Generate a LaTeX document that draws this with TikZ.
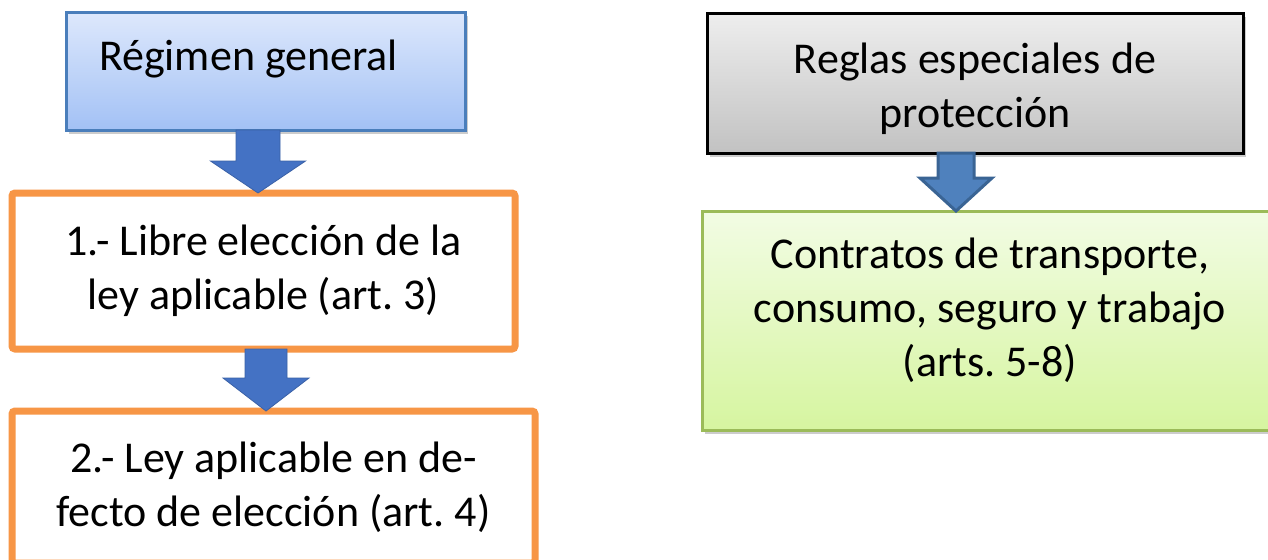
\documentclass[tikz,border=0pt]{standalone}
\usepackage{fontspec}
\setmainfont{Carlito}
\frenchspacing
\usetikzlibrary{calc,shadows}

\definecolor{regborde}{HTML}{4A7EBB}
\definecolor{regarriba}{HTML}{DDE8FC}
\definecolor{regabajo}{HTML}{A3C1F5}
\definecolor{pasoborde}{HTML}{F79646}
\definecolor{esparriba}{HTML}{EEEEEE}
\definecolor{espabajo}{HTML}{C2C2C2}
\definecolor{conborde}{HTML}{9BBB59}
\definecolor{conarriba}{HTML}{F2FCE4}
\definecolor{conabajo}{HTML}{D6F5A0}
\definecolor{flechaazul}{HTML}{4472C4}
\definecolor{flechamedia}{HTML}{4F81BD}
\definecolor{flechaborde}{HTML}{3A6494}

\tikzstyle{caja} = [rectangle, align=center, inner sep=0pt, outer sep=0pt, font=\fontsize{22pt}{27pt}\selectfont]
\tikzstyle{sombra} = [drop shadow={shadow xshift=1.5pt, shadow yshift=-2pt, opacity=.2, fill=black}]
\tikzstyle{regimen} = [caja, sombra, draw=regborde, line width=1.5pt, top color=regarriba, bottom color=regabajo]
\tikzstyle{paso} = [caja, draw=pasoborde, line width=3.5pt, fill=white, rounded corners=1.5pt]
\tikzstyle{especial} = [caja, sombra, draw=black, line width=1.5pt, top color=esparriba, bottom color=espabajo]
\tikzstyle{contrato} = [caja, sombra, draw=conborde, line width=1.5pt, top color=conarriba, bottom color=conabajo]
\tikzstyle{flecha} = [fill=flechaazul, draw=flechaazul!85!black, line width=0.4pt]
\tikzstyle{flechagris} = [fill=flechamedia, draw=flechaborde, line width=1.5pt]

\begin{document}
\begin{tikzpicture}[x=0.5pt,y=-0.5pt]
	\path[use as bounding box, clip] (0,0) rectangle (1268,559);
	\fill[white] (0,0) rectangle (1268,559);

	% columna izquierda
	\node[regimen, minimum width=199.5pt, minimum height=59pt, text height=15pt, text depth=16pt] (reg) at (265.5,71) {Régimen general\hspace*{17pt}};
	\node[paso, minimum width=251.5pt, minimum height=78pt] (p1) at (263.5,271) {1.- Libre elección de la\\ley aplicable (art. 3)};
	\node[paso, minimum width=261.5pt, minimum height=76pt] (p2) at (273.5,487) {2.- Ley aplicable en de-\\fecto de elección (art. 4)};

	% columna derecha
	\node[especial, minimum width=268pt, minimum height=70pt] (esp) at (975,83) {\rule{0pt}{21pt}Reglas especiales de\\protección};
	\node[contrato, minimum width=288pt, minimum height=109.5pt] (con) at (990,320.5) {Contratos de transporte,\\consumo, seguro y trabajo\\(arts. 5-8)\rule[-13pt]{0pt}{13pt}};

	\coordinate (f1a) at ($(reg.south)+(-7.5,0)$);
	\coordinate (f1b) at (f1a |- p1.north);
	\filldraw[flecha] ($(f1a)+(-22,0)$) -- ($(f1a)+(22,0)$) -- ($(f1b)+(22,-32)$) -- ($(f1b)+(47.5,-32)$) -- (f1b) -- ($(f1b)+(-47.5,-32)$) -- ($(f1b)+(-22,-32)$) -- cycle;

	\coordinate (f2a) at ($(p1.south)+(2.5,0)$);
	\coordinate (f2b) at (f2a |- p2.north);
	\filldraw[flecha] ($(f2a)+(-21,0)$) -- ($(f2a)+(21,0)$) -- ($(f2b)+(21,-33)$) -- ($(f2b)+(43,-33)$) -- (f2b) -- ($(f2b)+(-43,-33)$) -- ($(f2b)+(-21,-33)$) -- cycle;

	\coordinate (f3a) at ($(esp.south)+(-19,0)$);
	\coordinate (f3b) at (f3a |- con.north);
	\filldraw[flechagris] ($(f3a)+(-18,0)$) -- ($(f3a)+(18,0)$) -- ($(f3b)+(18,-33)$) -- ($(f3b)+(36,-33)$) -- (f3b) -- ($(f3b)+(-36,-33)$) -- ($(f3b)+(-18,-33)$) -- cycle;
\end{tikzpicture}
\end{document}
